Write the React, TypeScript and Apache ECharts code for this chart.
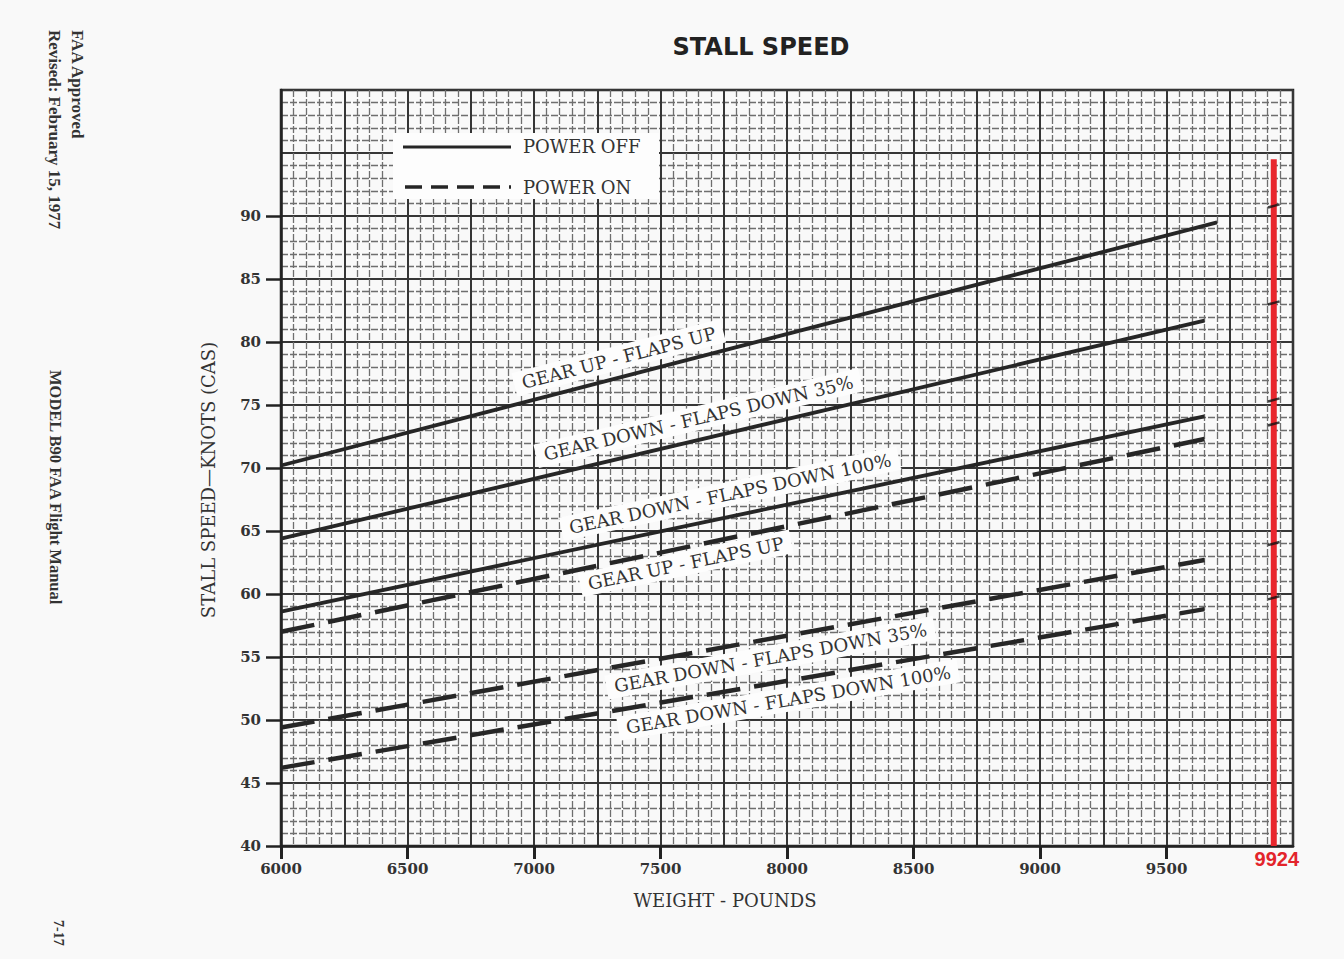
import React, { useEffect, useRef } from "react";
import * as echarts from "echarts";

// ---------- data ----------
const X_MIN = 6000;
const X_MAX = 10000;
const Y_MIN = 40;
const Y_MAX = 100;
const X_TICK_LABELS = [6000, 6500, 7000, 7500, 8000, 8500, 9000, 9500];
const Y_TICK_LABELS = [40, 45, 50, 55, 60, 65, 70, 75, 80, 85, 90];
const MAX_WEIGHT = 9924;

const powerOffGearUpFlapsUp = [[6000, 70.2], [9700, 89.5]];
const powerOffGearDownFlaps35 = [[6000, 64.4], [9650, 81.7]];
const powerOffGearDownFlaps100 = [[6000, 58.6], [9650, 74.1]];
const powerOnGearUpFlapsUp = [[6000, 57.0], [9650, 72.3]];
const powerOnGearDownFlaps35 = [[6000, 49.4], [9650, 62.7]];
const powerOnGearDownFlaps100 = [[6000, 46.2], [9650, 58.8]];

const maxWeightLine = [[9924, 40], [9924, 94.5]];
const maxWeightMarks = [90.8, 83.1, 75.4, 73.5, 64.0, 59.7];

const curveNames = [
  "GEAR UP - FLAPS UP",
  "GEAR DOWN - FLAPS DOWN 35%",
  "GEAR DOWN - FLAPS DOWN 100%",
  "GEAR UP - FLAPS UP",
  "GEAR DOWN - FLAPS DOWN 35%",
  "GEAR DOWN - FLAPS DOWN 100%",
];
const curvePower = ["off", "off", "off", "on", "on", "on"];
const curveData = [
  powerOffGearUpFlapsUp,
  powerOffGearDownFlaps35,
  powerOffGearDownFlaps100,
  powerOnGearUpFlapsUp,
  powerOnGearDownFlaps35,
  powerOnGearDownFlaps100,
];

// ---------- layout / style ----------
const LABEL_PLACE = [
  { at: 7335, dy: -20 },
  { at: 7650, dy: -22 },
  { at: 7775, dy: -23 },
  { at: 7600, dy: 16 },
  { at: 7935, dy: 19 },
  { at: 8005, dy: 19 },
];
const INK = "#262626";
const SERIF = "DejaVu Serif";
const BG = "#f9f9f9";
const PAPER = "#fdfdfd";

export default function App() {
  const ref = useRef<HTMLDivElement>(null);

  useEffect(() => {
    if (!ref.current) return;
    const chart = echarts.init(ref.current, undefined, { renderer: "svg" });

    const curveSeries = curveData.map((d, i) => ({
      type: "line",
      name: curveNames[i] + " (" + curvePower[i] + ")",
      data: d,
      xAxisIndex: 0,
      yAxisIndex: 0,
      symbol: "none",
      z: 3,
      lineStyle:
        curvePower[i] === "off"
          ? { color: INK, width: 3.8 }
          : { color: INK, width: 4.5, type: [34, 14], cap: "butt" },
    }));

    const option: any = {
      animation: false,
      backgroundColor: BG,
      title: {
        text: "STALL SPEED",
        left: 756,
        top: 30,
        textAlign: "center",
        textStyle: {
          fontFamily: "DejaVu Sans",
          fontWeight: "bold",
          fontSize: 24,
          color: "#222",
        },
      },
      grid: {
        left: 281,
        top: 90,
        width: 1012,
        height: 756,
        show: true,
        borderColor: "#222",
        borderWidth: 2.5,
        backgroundColor: "transparent",
      },
      xAxis: [
        {
          type: "value",
          min: X_MIN,
          max: X_MAX,
          interval: 250,
          axisLine: { show: true, lineStyle: { color: "#222", width: 2.5 } },
          axisTick: { show: false },
          axisLabel: { show: false },
          splitLine: { show: true, lineStyle: { color: "#363636", width: 2 } },
          minorTick: { show: false, splitNumber: 5 },
          minorSplitLine: {
            show: true,
            lineStyle: { color: "#6e6e6e", width: 1.3, type: [7, 2] },
          },
        },
        {
          type: "value",
          min: X_MIN,
          max: X_MAX,
          position: "bottom",
          axisLine: { show: false },
          splitLine: { show: false },
          axisTick: {
            show: true,
            customValues: X_TICK_LABELS,
            length: 13,
            lineStyle: { color: "#222", width: 3 },
          },
          axisLabel: {
            show: true,
            customValues: X_TICK_LABELS,
            margin: 15,
            fontFamily: SERIF,
            fontWeight: "bold",
            fontSize: 15,
            color: "#333",
            formatter: (v: number) => String(v),
          },
        },
      ],
      yAxis: [
        {
          type: "value",
          min: Y_MIN,
          max: Y_MAX,
          interval: 5,
          axisLine: { show: true, lineStyle: { color: "#222", width: 2.5 } },
          axisTick: { show: false },
          axisLabel: { show: false },
          splitLine: { show: true, lineStyle: { color: "#363636", width: 2 } },
          minorTick: { show: false, splitNumber: 5 },
          minorSplitLine: {
            show: true,
            lineStyle: { color: "#6e6e6e", width: 1.3, type: [7, 2] },
          },
        },
        {
          type: "value",
          min: Y_MIN,
          max: Y_MAX,
          position: "left",
          name: "STALL SPEED\u2014KNOTS (CAS)",
          nameLocation: "middle",
          nameRotate: 90,
          nameGap: 64,
          nameTextStyle: {
            fontFamily: SERIF,
            fontSize: 18,
            color: "#333",
            padding: [0, 24, 0, 0],
          },
          axisLine: { show: false },
          splitLine: { show: false },
          axisTick: {
            show: true,
            customValues: Y_TICK_LABELS,
            length: 15,
            lineStyle: { color: "#222", width: 2.5 },
          },
          axisLabel: {
            show: true,
            customValues: Y_TICK_LABELS,
            margin: 20,
            fontFamily: SERIF,
            fontWeight: "bold",
            fontSize: 15,
            color: "#333",
            formatter: (v: number) => String(v),
          },
        },
      ],
      series: [
        ...curveSeries,
        {
          type: "line",
          name: "max weight",
          data: maxWeightLine,
          xAxisIndex: 0,
          yAxisIndex: 0,
          symbol: "none",
          z: 4,
          lineStyle: { color: "#e8262d", width: 6 },
        },
        {
          type: "scatter",
          name: "max weight marks",
          data: maxWeightMarks.map((v) => [MAX_WEIGHT, v]),
          xAxisIndex: 0,
          yAxisIndex: 0,
          symbol: "rect",
          symbolSize: [12, 2.5],
          symbolRotate: 15,
          itemStyle: { color: "#111" },
          z: 5,
        },
      ],
    };

    chart.setOption(option);

    const px = (p: number[]) =>
      chart.convertToPixel({ seriesIndex: 0 }, p) as number[];

    const labelGraphics = curveData.map((d, i) => {
      const [x0, y0] = d[0];
      const [x1, y1] = d[1];
      const at = LABEL_PLACE[i].at;
      const v = y0 + ((y1 - y0) * (at - x0)) / (x1 - x0);
      const p = px([at, v]);
      const a = px([x0, y0]);
      const b = px([x1, y1]);
      const ang = Math.atan2(a[1] - b[1], b[0] - a[0]);
      return {
        type: "text",
        x: p[0],
        y: p[1] + LABEL_PLACE[i].dy,
        rotation: ang,
        z: 1,
        style: {
          text: curveNames[i],
          fontFamily: SERIF,
          fontSize: 18,
          fill: "#333",
          align: "center",
          verticalAlign: "middle",
          backgroundColor: PAPER,
          padding: [3, 8, 3, 8],
        },
      };
    });

    const side = (text: string, x: number, y: number, size: number) => ({
      type: "text",
      x,
      y,
      rotation: -Math.PI / 2,
      style: {
        text,
        fontFamily: "Liberation Serif",
        fontWeight: "bold",
        fontSize: size,
        fill: "#333",
        align: "left",
        verticalAlign: "middle",
      },
    });

    const redBase = px([MAX_WEIGHT, Y_MIN]);

    chart.setOption({
      graphic: [
        ...labelGraphics,
        {
          type: "rect",
          z: 1,
          shape: { x: 393, y: 133, width: 266, height: 66 },
          style: { fill: PAPER },
        },
        {
          type: "line",
          z: 2,
          shape: { x1: 403, y1: 147, x2: 511, y2: 147 },
          style: { stroke: INK, lineWidth: 3 },
        },
        {
          type: "line",
          z: 2,
          shape: { x1: 405, y1: 187, x2: 511, y2: 187 },
          style: { stroke: INK, lineWidth: 3.5, lineDash: [17, 9] },
        },
        {
          type: "text",
          z: 2,
          x: 523,
          y: 146,
          style: {
            text: "POWER OFF",
            fontFamily: SERIF,
            fontSize: 18,
            fill: "#333",
            align: "left",
            verticalAlign: "middle",
          },
        },
        {
          type: "text",
          z: 2,
          x: 523,
          y: 187,
          style: {
            text: "POWER ON",
            fontFamily: SERIF,
            fontSize: 18,
            fill: "#333",
            align: "left",
            verticalAlign: "middle",
          },
        },
        {
          type: "text",
          z: 2,
          x: 725,
          y: 900,
          style: {
            text: "WEIGHT - POUNDS",
            fontFamily: SERIF,
            fontSize: 18,
            fill: "#333",
            align: "center",
            verticalAlign: "middle",
          },
        },
        {
          type: "text",
          z: 2,
          x: redBase[0] + 3,
          y: 859,
          style: {
            text: String(MAX_WEIGHT),
            fontFamily: "Liberation Sans",
            fontWeight: "bold",
            fontSize: 20,
            fill: "#e3242b",
            align: "center",
            verticalAlign: "middle",
          },
        },
        side("FAA Approved", 77, 30, 17),
        side("Revised: February 15, 1977", 54, 30, 17),
        side("MODEL B90 FAA Flight Manual", 55, 370, 16.5),
        side("7-17", 58, 920, 14),
      ],
    });

    return () => chart.dispose();
  }, []);

  return (
    <div
      ref={ref}
      style={{
        position: "fixed",
        left: 0,
        top: 0,
        width: 1344,
        height: 959,
      }}
    />
  );
}
